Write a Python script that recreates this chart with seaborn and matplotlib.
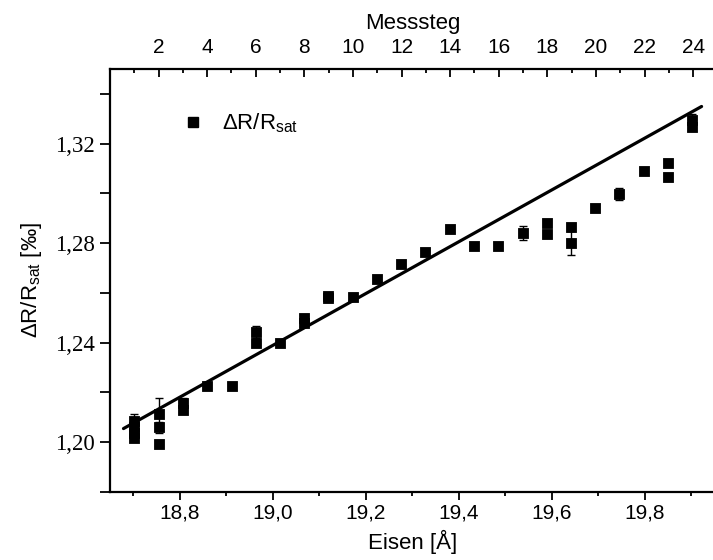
import matplotlib
matplotlib.use("Agg")
import matplotlib.pyplot as plt
import seaborn as sns
import pandas as pd
from matplotlib.ticker import MultipleLocator, FuncFormatter
from matplotlib.lines import Line2D

# Iron thickness for each measurement (Å) and the magnetoresistance values (‰)
eisen = [18.702, 18.702, 18.702, 18.702,
         18.755, 18.755, 18.755,
         18.807, 18.807,
         18.859, 18.912,
         18.964, 18.964,
         19.016,
         19.067, 19.067,
         19.119, 19.119,
         19.172, 19.224, 19.276, 19.328, 19.380, 19.432, 19.484, 19.537,
         19.589, 19.589,
         19.641, 19.641,
         19.693, 19.745, 19.798,
         19.849, 19.849,
         19.902, 19.902]
dr_rsat = [1.2085, 1.2061, 1.2037, 1.2017,
           1.2113, 1.2059, 1.1992,
           1.2157, 1.2129,
           1.2225, 1.2225,
           1.2443, 1.2397,
           1.2397,
           1.2499, 1.2479,
           1.2588, 1.2579,
           1.2582, 1.2656, 1.2715, 1.2766, 1.2856, 1.2789, 1.2789, 1.2842,
           1.2882, 1.2837,
           1.2866, 1.2800,
           1.2942, 1.2997, 1.3092,
           1.3122, 1.3068,
           1.3296, 1.3269]
dr_err = [0.0028, 0.0010, 0.0010, 0.0010,
          0.0065, 0.0023, 0.0010,
          0.0020, 0.0010,
          0.0012, 0.0010,
          0.0024, 0.0010,
          0.0010,
          0.0010, 0.0010,
          0.0010, 0.0010,
          0.0010, 0.0010, 0.0012, 0.0012, 0.0010, 0.0010, 0.0010, 0.0028,
          0.0010, 0.0010,
          0.0010, 0.0047,
          0.0010, 0.0025, 0.0010,
          0.0010, 0.0010,
          0.0023, 0.0010]

# Linear fit drawn across the data range
fit_eisen = [18.679, 19.922]
fit_dr = [1.2054, 1.3350]

# Axis ranges (bottom: iron thickness, top: measurement step)
eisen_range = (18.65, 19.953)
messsteg_range = (0.0, 24.94)
dr_range = (1.18, 1.35)

sans = "Liberation Sans"
serif = "Liberation Serif"

sns.set_style("ticks")
plt.rcParams["font.family"] = [sans, "DejaVu Sans"]
plt.rcParams["mathtext.fontset"] = "custom"
plt.rcParams["mathtext.rm"] = sans
plt.rcParams["mathtext.it"] = sans + ":italic"
plt.rcParams["mathtext.bf"] = sans + ":bold"
for key in ("text.color", "axes.labelcolor", "xtick.color", "ytick.color",
            "axes.edgecolor", "xtick.labelcolor", "ytick.labelcolor"):
    plt.rcParams[key] = "black"

W, H = 713, 560
fig = plt.figure(figsize=(W / 100, H / 100), dpi=100)
left_px, right_px, top_px, bottom_px = 110, 716, 69.2, 491.7
ax = fig.add_axes([left_px / W, (H - bottom_px) / H,
                   (right_px - left_px) / W, (bottom_px - top_px) / H])

df = pd.DataFrame({"Eisen": eisen, "dR": dr_rsat, "err": dr_err})
fit = pd.DataFrame({"Eisen": fit_eisen, "dR": fit_dr})

ax.errorbar(df["Eisen"], df["dR"], yerr=df["err"], fmt="none",
            ecolor="black", elinewidth=1.0, capsize=3, capthick=1.0, zorder=2)
sns.lineplot(data=fit, x="Eisen", y="dR", color="black", linewidth=2.3,
             sort=False, estimator=None, ax=ax, zorder=3)
sns.scatterplot(data=df, x="Eisen", y="dR", marker="s", s=42, color="black",
                edgecolor="black", linewidth=0.6, ax=ax, zorder=4)

ax.set_xlim(*eisen_range)
ax.set_ylim(*dr_range)

ax.xaxis.set_major_locator(MultipleLocator(0.2))
ax.xaxis.set_minor_locator(MultipleLocator(0.1))
ax.yaxis.set_major_locator(MultipleLocator(0.04))
ax.yaxis.set_minor_locator(MultipleLocator(0.02))
ax.xaxis.set_major_formatter(FuncFormatter(lambda v, p: f"{v:.1f}".replace(".", ",")))
ax.yaxis.set_major_formatter(FuncFormatter(lambda v, p: f"{v:.2f}".replace(".", ",")))

ax.tick_params(axis="x", which="major", direction="out", length=5.5, width=1.3,
               labelsize=15, pad=3)
ax.tick_params(axis="x", which="minor", direction="out", length=3, width=1.3)
ax.tick_params(axis="y", which="both", direction="out", length=7, width=1.3,
               labelsize=16.5, pad=4)
for lbl in ax.get_yticklabels():
    lbl.set_fontfamily(serif)

for side in ("left", "bottom"):
    ax.spines[side].set_linewidth(1.6)
    ax.spines[side].set_color("black")
ax.spines["right"].set_visible(False)
ax.spines["top"].set_visible(False)

ax.set_xlabel("Eisen [Å]", fontsize=16, labelpad=5)
ax.set_ylabel("ΔR/R$_\\mathrm{sat}$ [‰]", fontsize=16, labelpad=8)

# Upper axis with the measurement step number
top = ax.twiny()
top.set_xlim(*messsteg_range)
top.xaxis.set_major_locator(MultipleLocator(2))
top.xaxis.set_minor_locator(MultipleLocator(1))
top.xaxis.set_major_formatter(FuncFormatter(lambda v, p: "" if v == 0 else f"{v:.0f}"))
top.tick_params(axis="x", which="major", direction="in", length=6, width=1.3,
                labelsize=15, pad=9)
top.tick_params(axis="x", which="minor", direction="in", length=3, width=1.3)
for side in ("left", "right", "bottom"):
    top.spines[side].set_visible(False)
top.spines["top"].set_linewidth(1.6)
top.spines["top"].set_color("black")
top.set_xlabel("Messsteg", fontsize=16, labelpad=6)

handle = Line2D([], [], marker="s", linestyle="none", color="black",
                markersize=6.5)
ax.legend([handle], ["ΔR/R$_\\mathrm{sat}$"], loc="center left",
          bbox_to_anchor=(0.118, 0.872), frameon=False, fontsize=16,
          handlelength=1.0, handletextpad=0.8, borderpad=0, borderaxespad=0)

fig.savefig("out.png", dpi=100)
